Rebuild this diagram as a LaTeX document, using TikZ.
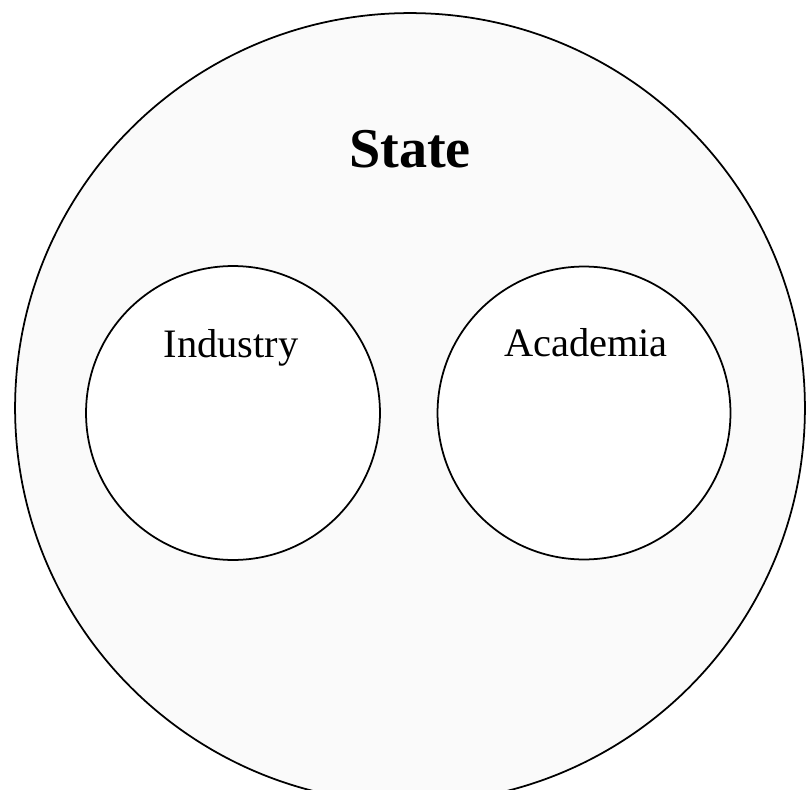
\documentclass[tikz,border=0pt]{standalone}
\usepackage{fontspec}
\setmainfont{Liberation Serif}
\begin{document}
\begin{tikzpicture}[x=0.02cm, y=-0.02cm,
  ring/.style={circle, draw, line width=1pt, inner sep=0pt},
  label/.style={anchor=base, font=\fontsize{23}{26}\selectfont}]
% Fix the page to the reference size
\useasboundingbox (0, 0) rectangle (807, 790);

% Outer and inner circles
\node[ring, fill=gray!4, minimum size=15.8cm] (state) at (410, 408) {};
\node[ring, fill=white, minimum size=5.88cm] (industry) at (233, 413) {};
\node[ring, fill=white, minimum size=5.86cm] (academia) at (584, 413) {};

% Labels
\node[anchor=base, font=\fontsize{32}{36}\selectfont\bfseries] (statelabel) at (410, 168) {State};
\node[label] (industrylabel) at (231, 357) {Industry};
\node[label] (academialabel) at (586, 356) {Academia};
\end{tikzpicture}
\end{document}
